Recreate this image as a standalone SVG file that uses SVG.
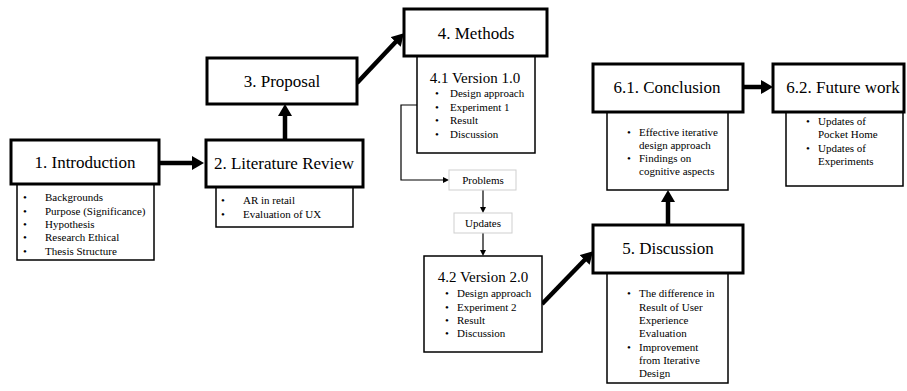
<svg xmlns="http://www.w3.org/2000/svg" width="907" height="391" viewBox="0 0 907 391" font-family="'Liberation Serif', 'Times New Roman', 'DejaVu Serif', serif">
  <style>
    .title { fill: #fff; stroke: #000; stroke-width: 3; }
    .sub { fill: #fff; stroke: #000; stroke-width: 1.5; }
    .step { fill: #fff; stroke: #cfcfcf; stroke-width: 1; }
    .h { font-size: 17px; text-anchor: middle; }
    .h2 { font-size: 15px; text-anchor: middle; }
    .b { font-size: 11px; }
    .c { font-size: 11px; text-anchor: middle; }
    .thick { stroke: #000; stroke-width: 4.5; fill: none; marker-end: url(#bigHead); }
    .thin { stroke: #000; stroke-width: 1.2; fill: none; marker-end: url(#smallHead); }
  </style>
  <defs>
    <marker id="bigHead" markerUnits="userSpaceOnUse" markerWidth="14" markerHeight="14" refX="2" refY="7" orient="auto" viewBox="0 0 14 14">
      <path d="M0,0 L12,7 L0,14 z" fill="#000"/>
    </marker>
    <marker id="smallHead" markerUnits="userSpaceOnUse" markerWidth="6" markerHeight="6" refX="0" refY="3" orient="auto" viewBox="0 0 6 6">
      <path d="M0,0 L6,3 L0,6 z" fill="#000"/>
    </marker>
  </defs>

  <!-- connectors -->
  <g id="connectors">
    <line class="thick" x1="159" y1="163" x2="194" y2="163"/>
    <line class="thick" x1="285" y1="139" x2="285" y2="114"/>
    <line class="thick" x1="357" y1="83" x2="397" y2="40.5"/>
    <line class="thick" x1="542" y1="304" x2="586" y2="258.5"/>
    <line class="thick" x1="668" y1="224" x2="668" y2="200"/>
    <line class="thick" x1="743" y1="87" x2="763" y2="87"/>
    <polyline class="thin" points="417,105 401,105 401,180 443,180"/>
    <line class="thin" x1="483" y1="190" x2="483" y2="207"/>
    <line class="thin" x1="483" y1="233" x2="483" y2="250"/>
  </g>

  <!-- 1. Introduction -->
  <g id="introduction">
    <rect class="sub" x="17" y="184" width="137" height="76"/>
    <rect class="title" x="11" y="140" width="148" height="44"/>
    <text class="h" x="85" y="168">1. Introduction</text>
    <text class="b"><tspan x="23" y="201">•</tspan><tspan x="45" y="201">Backgrounds</tspan></text>
    <text class="b"><tspan x="23" y="215">•</tspan><tspan x="45" y="215">Purpose (Significance)</tspan></text>
    <text class="b"><tspan x="23" y="228">•</tspan><tspan x="45" y="228">Hypothesis</tspan></text>
    <text class="b"><tspan x="23" y="241">•</tspan><tspan x="45" y="241">Research Ethical</tspan></text>
    <text class="b"><tspan x="23" y="255">•</tspan><tspan x="45" y="255">Thesis Structure</tspan></text>
  </g>

  <!-- 2. Literature Review -->
  <g id="literature-review">
    <rect class="sub" x="216" y="187" width="137" height="40"/>
    <rect class="title" x="206" y="140" width="157" height="47"/>
    <text class="h" x="284" y="169">2. Literature Review</text>
    <text class="b"><tspan x="221" y="204">•</tspan><tspan x="243" y="204">AR in retail</tspan></text>
    <text class="b"><tspan x="221" y="218">•</tspan><tspan x="243" y="218">Evaluation of UX</tspan></text>
  </g>

  <!-- 3. Proposal -->
  <g id="proposal">
    <rect class="title" x="207" y="58" width="150" height="46"/>
    <text class="h" x="282" y="87">3. Proposal</text>
  </g>

  <!-- 4. Methods -->
  <g id="methods">
    <rect class="sub" x="417" y="56" width="118" height="97"/>
    <rect class="title" x="404" y="9" width="143" height="47"/>
    <text class="h" x="476" y="39">4. Methods</text>
    <text class="h2" x="475" y="83">4.1 Version 1.0</text>
    <text class="b"><tspan x="435" y="97">•</tspan><tspan x="450" y="97">Design approach</tspan></text>
    <text class="b"><tspan x="435" y="111">•</tspan><tspan x="450" y="111">Experiment 1</tspan></text>
    <text class="b"><tspan x="435" y="124">•</tspan><tspan x="450" y="124">Result</tspan></text>
    <text class="b"><tspan x="435" y="138">•</tspan><tspan x="450" y="138">Discussion</tspan></text>
  </g>

  <!-- Problems -->
  <g id="problems">
    <rect class="step" x="449" y="170" width="67" height="20"/>
    <text class="c" x="483" y="184">Problems</text>
  </g>

  <!-- Updates -->
  <g id="updates">
    <rect class="step" x="454" y="213" width="58" height="20"/>
    <text class="c" x="483" y="227">Updates</text>
  </g>

  <!-- 4.2 Version 2.0 -->
  <g id="version-2">
    <rect class="sub" x="424" y="256" width="118" height="96" stroke-width="2"/>
    <text class="h2" x="483" y="282">4.2 Version 2.0</text>
    <text class="b"><tspan x="445" y="297">•</tspan><tspan x="457" y="297">Design approach</tspan></text>
    <text class="b"><tspan x="445" y="311">•</tspan><tspan x="457" y="311">Experiment 2</tspan></text>
    <text class="b"><tspan x="445" y="324">•</tspan><tspan x="457" y="324">Result</tspan></text>
    <text class="b"><tspan x="445" y="337">•</tspan><tspan x="457" y="337">Discussion</tspan></text>
  </g>

  <!-- 5. Discussion -->
  <g id="discussion">
    <rect class="sub" x="607" y="273" width="121" height="110"/>
    <rect class="title" x="593" y="225" width="150" height="48"/>
    <text class="h" x="668" y="254">5. Discussion</text>
    <text class="b"><tspan x="627" y="297">•</tspan><tspan x="639" y="297">The difference in</tspan></text>
    <text class="b"><tspan x="639" y="311">Result of User</tspan></text>
    <text class="b"><tspan x="639" y="324">Experience</tspan></text>
    <text class="b"><tspan x="639" y="337">Evaluation</tspan></text>
    <text class="b"><tspan x="627" y="351">•</tspan><tspan x="639" y="351">Improvement</tspan></text>
    <text class="b"><tspan x="639" y="364">from Iterative</tspan></text>
    <text class="b"><tspan x="639" y="377">Design</tspan></text>
  </g>

  <!-- 6.1. Conclusion -->
  <g id="conclusion">
    <rect class="sub" x="607" y="112" width="121" height="78"/>
    <rect class="title" x="593" y="64" width="150" height="48"/>
    <text class="h" x="667" y="93">6.1. Conclusion</text>
    <text class="b"><tspan x="627" y="136">•</tspan><tspan x="639" y="136">Effective iterative</tspan></text>
    <text class="b"><tspan x="639" y="149">design approach</tspan></text>
    <text class="b"><tspan x="627" y="162">•</tspan><tspan x="639" y="162">Findings on</tspan></text>
    <text class="b"><tspan x="639" y="175">cognitive aspects</tspan></text>
  </g>

  <!-- 6.2. Future work -->
  <g id="future-work">
    <rect class="sub" x="786" y="112" width="117" height="74"/>
    <rect class="title" x="773" y="64" width="131" height="48"/>
    <text class="h" x="843" y="93">6.2. Future work</text>
    <text class="b"><tspan x="806" y="125">•</tspan><tspan x="818" y="125">Updates of</tspan></text>
    <text class="b"><tspan x="818" y="138">Pocket Home</tspan></text>
    <text class="b"><tspan x="806" y="152">•</tspan><tspan x="818" y="152">Updates of</tspan></text>
    <text class="b"><tspan x="818" y="165">Experiments</tspan></text>
  </g>
</svg>
